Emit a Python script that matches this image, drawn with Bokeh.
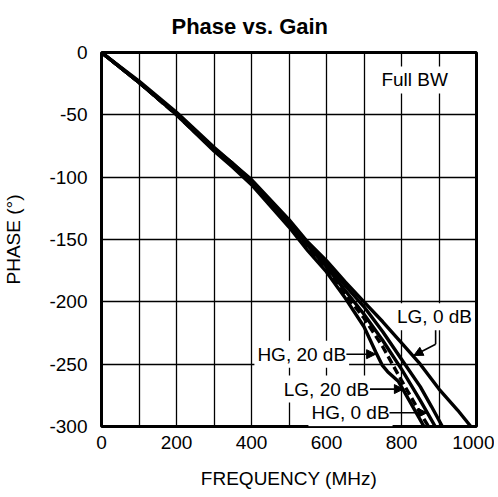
from bokeh.plotting import figure
from bokeh.models import Label, Arrow, NormalHead, FixedTicker, Range1d
from bokeh.embed import file_html
from bokeh.resources import INLINE

# ---- data ----
freq_lg0 = [0, 100, 200, 300, 350, 400, 450, 500, 550, 600, 650, 700, 750, 800, 850, 900, 950, 985]
phase_lg0 = [0, -23, -48, -76, -89, -102, -118, -134, -152, -167, -184, -200, -216, -233, -250, -270, -287, -300]

freq_x = [0, 100, 200, 300, 350, 400, 450, 500, 550, 600, 650, 700, 750, 800, 850, 880, 909]
phase_x = [0, -24, -49, -77, -89, -103, -119, -136, -153, -170, -187, -204, -224, -246, -268, -284, -300]

freq_hg0 = [0, 100, 200, 300, 350, 400, 450, 500, 550, 600, 650, 700, 750, 800, 850, 890]
phase_hg0 = [0, -24, -49, -77, -90, -104, -120, -137, -155, -172, -191, -210, -231, -254, -279, -300]

freq_lg20 = [0, 100, 200, 300, 350, 400, 450, 500, 550, 600, 650, 700, 750, 800, 840, 872]
phase_lg20 = [0, -24, -50, -78, -91, -105, -121, -139, -157, -174, -194, -213, -236, -263, -284, -300]

freq_hg20 = [0, 100, 200, 300, 350, 400, 450, 500, 550, 600, 650, 700, 731, 749, 763, 792, 830, 860]
phase_hg20 = [0, -24, -50, -79, -92, -106, -123, -140, -159, -176, -197, -220, -240, -251, -256, -264, -284, -300]

x_ticks = [0, 200, 400, 600, 800, 1000]
x_tick_labels = ["0", "200", "400", "600", "800", "1000"]
y_ticks = [0, -50, -100, -150, -200, -250, -300]
y_tick_labels = ["0", "-50", "-100", "-150", "-200", "-250", "-300"]
x_grid = [100, 200, 300, 400, 500, 600, 700, 800, 900]
y_grid = [-50, -100, -150, -200, -250]

FONT = "Liberation Sans"
FS = "19px"

p = figure(width=494, height=492, output_backend="svg", toolbar_location=None,
           x_range=Range1d(0, 1000), y_range=Range1d(-300, 0),
           min_border_left=101, min_border_right=18, min_border_top=52, min_border_bottom=66)

xa = p.below[0]
ya = p.left[0]

p.title.text = "Phase vs. Gain"
p.title.align = "left"
p.title.offset = 70
p.title.vertical_align = "top"
p.title.standoff = 24
p.title.text_font = FONT
p.title.text_font_size = "22px"
p.title.text_font_style = "bold"
p.title.text_color = "black"

p.outline_line_color = "black"
p.outline_line_width = 3
p.outline_line_alpha = 1

for ax in (xa, ya):
    ax.axis_line_color = None
    ax.major_tick_line_color = None
    ax.minor_tick_line_color = None
    ax.major_label_text_font = FONT
    ax.major_label_text_font_size = FS
    ax.major_label_text_color = "black"
    ax.axis_label_text_font = FONT
    ax.axis_label_text_font_size = FS
    ax.axis_label_text_font_style = "normal"
    ax.axis_label_text_color = "black"

xa.ticker = FixedTicker(ticks=x_ticks)
xa.major_label_overrides = dict(zip(x_ticks, x_tick_labels))
ya.ticker = FixedTicker(ticks=y_ticks)
ya.major_label_overrides = dict(zip(y_ticks, y_tick_labels))
xa.axis_label = "FREQUENCY (MHz)"
ya.axis_label = "PHASE (°)"
xa.major_label_standoff = 3
ya.major_label_standoff = 8
xa.axis_label_standoff = 16
ya.axis_label_standoff = 22

p.xgrid.ticker = FixedTicker(ticks=x_grid)
p.ygrid.ticker = FixedTicker(ticks=y_grid)
for g in (p.xgrid[0], p.ygrid[0]):
    g.grid_line_color = "black"
    g.grid_line_width = 1.3
    g.grid_line_alpha = 1

LW = 3.4
p.line(freq_hg20, phase_hg20, line_color="black", line_width=LW)
p.line(freq_lg20, phase_lg20, line_color="black", line_width=LW, line_dash="8 4")
p.line(freq_hg0, phase_hg0, line_color="black", line_width=LW)
p.line(freq_x, phase_x, line_color="black", line_width=LW)
p.line(freq_lg0, phase_lg0, line_color="black", line_width=LW)

def lab(x, y, t):
    p.add_layout(Label(x=x, y=y, text=t, text_font=FONT, text_font_size=FS,
                       text_color="black", text_align="center", text_baseline="middle",
                       background_fill_color="white", padding=3))

lab(835, -22, "Full BW")
lab(888, -212, "LG, 0 dB")
lab(534, -242, "HG, 20 dB")
lab(600, -270, "LG, 20 dB")
lab(664, -289, "HG, 0 dB")

def arrow(x0, y0, x1, y1):
    p.add_layout(Arrow(end=NormalHead(size=9, fill_color="black", line_color="black"),
                       x_start=x0, y_start=y0, x_end=x1, y_end=y1,
                       line_color="black", line_width=1.6))

p.line([891, 891], [-221, -234], line_color="black", line_width=1.6)
arrow(891, -234, 833, -243)
arrow(653, -242, 731, -242)
arrow(716, -270, 805, -270)
arrow(768, -289, 868, -289)

open("out.html", "w").write(file_html(p, INLINE))
